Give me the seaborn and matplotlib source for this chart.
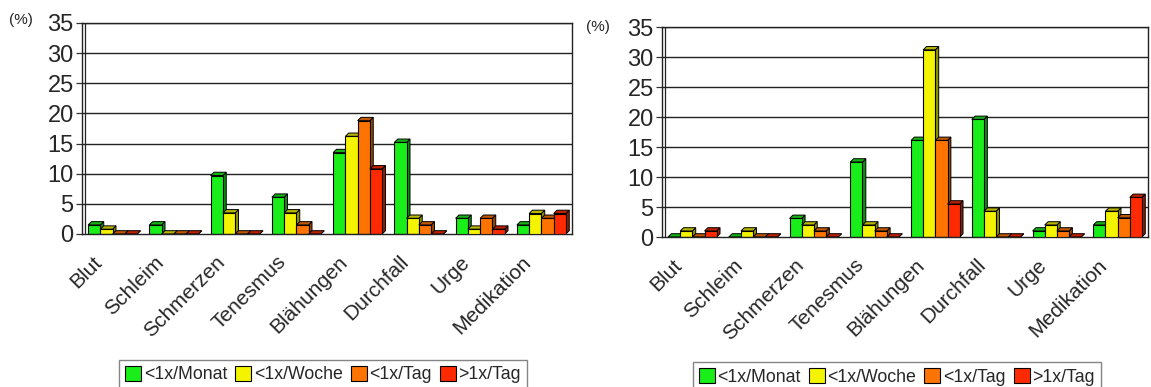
import matplotlib
matplotlib.use("Agg")
import matplotlib.pyplot as plt
import matplotlib.colors as mcolors
import matplotlib.transforms as mtransforms
from matplotlib.patches import Polygon, Patch
import numpy as np
import pandas as pd
import seaborn as sns

# Symptom categories and frequency classes
categories = ["Blut", "Schleim", "Schmerzen", "Tenesmus", "Blähungen",
              "Durchfall", "Urge", "Medikation"]
frequencies = ["<1x/Monat", "<1x/Woche", "<1x/Tag", ">1x/Tag"]

# Left panel (%)
left_monat = [1.5, 1.5, 9.7, 6.1, 13.5, 15.2, 2.6, 1.5]
left_woche = [0.8, 0.0, 3.5, 3.5, 16.2, 2.6, 0.8, 3.4]
left_tag = [0.0, 0.0, 0.0, 1.5, 18.8, 1.5, 2.6, 2.6]
left_mehr = [0.0, 0.0, 0.0, 0.0, 10.8, 0.0, 0.8, 3.4]

# Right panel (%)
right_monat = [0.0, 0.0, 3.1, 12.5, 16.1, 19.6, 1.0, 2.0]
right_woche = [1.0, 1.0, 2.0, 2.0, 31.2, 4.3, 2.0, 4.3]
right_tag = [0.0, 0.0, 1.0, 1.0, 16.1, 0.0, 1.0, 3.2]
right_mehr = [1.0, 0.0, 0.0, 0.0, 5.5, 0.0, 0.0, 6.6]

y_ticks = [0, 5, 10, 15, 20, 25, 30, 35]
colors = ["#1aee1a", "#f4f400", "#ff7300", "#ff2a00"]

sns.set_theme(style="white")
plt.rcParams["font.family"] = ["Liberation Sans", "DejaVu Sans"]


def long_table(series):
    rows = []
    for freq, values in zip(frequencies, series):
        for cat, v in zip(categories, values):
            rows.append({"Kategorie": cat, "Frequenz": freq, "Wert": v})
    return pd.DataFrame(rows)


def shade(color, factor):
    r, g, b = mcolors.to_rgb(color)
    return (r * factor, g * factor, b * factor)


def extrude_bars(ax, depth_x, depth_y):
    bars = list(ax.patches)
    for bar in bars:
        x, y = bar.get_x(), bar.get_y()
        w, h = bar.get_width(), bar.get_height()
        face = bar.get_facecolor()
        z = 2 + x * 0.1
        bar.set_zorder(z + 0.02)
        side = Polygon([(x + w, y), (x + w + depth_x, y + depth_y),
                        (x + w + depth_x, y + h + depth_y), (x + w, y + h)],
                       closed=True, facecolor=shade(face, 0.6),
                       edgecolor="black", linewidth=0.7, zorder=z)
        top = Polygon([(x, y + h), (x + depth_x, y + h + depth_y),
                       (x + w + depth_x, y + h + depth_y), (x + w, y + h)],
                      closed=True, facecolor=shade(face, 0.75),
                      edgecolor="black", linewidth=0.7, zorder=z + 0.01)
        ax.add_patch(side)
        ax.add_patch(top)


def draw_panel(fig, ax, series, pct_x, pct_y, legend_x):
    df = long_table(series)
    sns.barplot(data=df, x="Kategorie", y="Wert", hue="Frequenz",
                palette=colors, width=0.8, saturation=1, edgecolor="black",
                linewidth=0.8, legend=False, ax=ax)
    extrude_bars(ax, depth_x=0.055, depth_y=0.55)

    ax.set_xlim(-0.5, len(categories) - 0.5)
    ax.set_ylim(0, 35)
    ax.set_yticks(y_ticks)
    ax.set_yticklabels([str(t) for t in y_ticks], fontsize=17)
    for t in y_ticks[1:]:
        ax.axhline(t, color="#222222", linewidth=1.0, zorder=1)
    ax.axvline(-0.5 + 0.055, color="#222222", linewidth=0.9, zorder=1)

    ax.set_xticks(range(len(categories)))
    ax.set_xticks(np.arange(-0.5, len(categories), 1.0), minor=True)
    ax.tick_params(axis="x", which="major", length=0, pad=6)
    ax.tick_params(axis="x", which="minor", length=4, width=0.9,
                   color="#555555", direction="out")
    ax.tick_params(axis="y", length=4, width=0.9, direction="out",
                   color="#333333", pad=2, left=True)
    ax.set_xticklabels(categories, rotation=45, ha="right", va="top",
                       rotation_mode="anchor", fontsize=15)
    # nudge the slanted category labels left/down
    shift = mtransforms.ScaledTranslation(-20 / 100, -10 / 100,
                                          fig.dpi_scale_trans)
    for lbl in ax.get_xticklabels():
        lbl.set_transform(lbl.get_transform() + shift)

    ax.set_xlabel("")
    ax.set_ylabel("")
    for s in ax.spines.values():
        s.set_color("#222222")
        s.set_linewidth(1.0)
    ax.text(pct_x, pct_y, "(%)", transform=ax.transAxes, fontsize=11,
            ha="center", va="center")

    handles = [Patch(facecolor=c, edgecolor="black", linewidth=0.8, label=f)
               for c, f in zip(colors, frequencies)]
    leg = ax.legend(handles=handles, loc="upper center",
                    bbox_to_anchor=(legend_x, -0.595), ncol=4, fontsize=12.8,
                    frameon=True, fancybox=False, handlelength=0.9,
                    handleheight=0.9, handletextpad=0.15, columnspacing=0.45,
                    borderpad=0.35, borderaxespad=0)
    leg.get_frame().set_edgecolor("#666666")
    leg.get_frame().set_linewidth(1.0)


fig = plt.figure(figsize=(11.51, 3.87), dpi=100)
ax_left = fig.add_axes([82 / 1151, 1 - 234 / 387, 490 / 1151, 211 / 387])
ax_right = fig.add_axes([662 / 1151, 1 - 237 / 387, 486 / 1151, 210 / 387])

draw_panel(fig, ax_left, [left_monat, left_woche, left_tag, left_mehr],
           pct_x=-0.125, pct_y=1.012, legend_x=0.492)
draw_panel(fig, ax_right, [right_monat, right_woche, right_tag, right_mehr],
           pct_x=-0.132, pct_y=1.0, legend_x=0.483)

fig.savefig("out.png", dpi=100, facecolor="white")
